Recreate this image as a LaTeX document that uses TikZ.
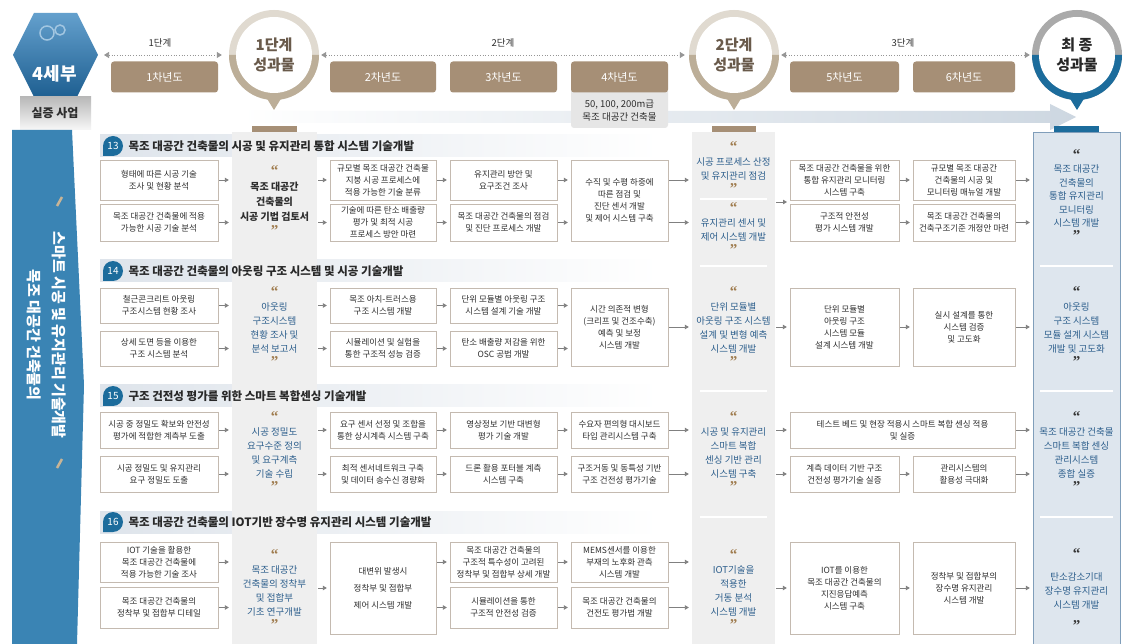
\documentclass[tikz,border=0pt]{standalone}
\usepackage{fontspec}
\setmainfont{Noto Sans CJK KR}
\newfontfamily\quotefont{Liberation Serif}
\usetikzlibrary{arrows.meta}

\definecolor{boxline}{RGB}{196,186,176}
\definecolor{txt}{RGB}{45,45,45}
\definecolor{titletxt}{RGB}{40,40,40}
\definecolor{titlebar}{RGB}{222,228,235}
\definecolor{yearbrown}{RGB}{166,143,118}
\definecolor{bandgray}{RGB}{239,239,239}
\definecolor{bandblue}{RGB}{222,230,238}
\definecolor{bandedge}{RGB}{128,158,186}
\definecolor{darkblue}{RGB}{28,108,156}
\definecolor{outblue}{RGB}{44,94,140}
\definecolor{quotetan}{RGB}{160,125,80}
\definecolor{quotedark}{RGB}{55,55,55}
\definecolor{arrowgray}{RGB}{128,128,128}
\definecolor{stagegray}{RGB}{150,150,150}
\definecolor{sideblue}{RGB}{58,132,180}
\definecolor{ringlight}{RGB}{224,218,208}
\definecolor{ringtan}{RGB}{188,174,152}
\definecolor{stagetxt}{RGB}{105,90,75}
\definecolor{ringgray}{RGB}{170,170,170}
\definecolor{hexlight}{RGB}{100,160,205}
\definecolor{hexdark}{RGB}{30,95,145}
\definecolor{bandarrow}{RGB}{205,215,225}
\definecolor{notegray}{RGB}{230,230,230}
\definecolor{slashtan}{RGB}{200,180,150}

\newcommand{\oq}{{\quotefont\bfseries\fontsize{15}{15}\selectfont\color{quotetan}“}}
\newcommand{\cq}{{\quotefont\bfseries\fontsize{15}{15}\selectfont\color{quotetan}”}}
\newcommand{\od}{{\quotefont\bfseries\fontsize{15}{15}\selectfont\color{quotedark}“}}
\newcommand{\cd}{{\quotefont\bfseries\fontsize{15}{15}\selectfont\color{quotedark}”}}

\begin{document}
\begin{tikzpicture}[x=1pt, y=1pt,
  box/.style={draw=boxline, fill=white, align=center, text=txt, inner sep=1pt,
    font=\fontsize{8.5}{12}\selectfont},
  wa/.style={box, minimum width=118pt},
  wc/.style={box, minimum width=106pt},
  wd/.style={box, minimum width=107pt},
  we/.style={box, minimum width=97pt},
  wf/.style={box, minimum width=109pt},
  wg/.style={box, minimum width=102pt},
  band/.style={minimum height=512pt, inner sep=0pt},
  outtxt/.style={align=center, text=outblue, font=\fontsize{9.5}{14}\selectfont},
  year/.style={fill=yearbrown, rounded corners=3pt, text=white, minimum height=31pt,
    font=\fontsize{11}{11}\selectfont},
  badge/.style={fill=darkblue},
  arr/.style={-{Triangle[length=4pt, width=4.5pt]}, draw=arrowgray, line width=0.9pt,
    shorten <=1pt, shorten >=3pt},
  stagearr/.style={{Triangle[length=5pt, width=6pt]}-{Triangle[length=5pt, width=6pt]},
    draw=stagegray, dotted, line width=0.7pt},
]
  \fill[white] (0,0) rectangle (1136,-644);
  \useasboundingbox (0,0) rectangle (1136,-644);

  % Kopf
  \shade[top color=hexlight, bottom color=hexdark]
    (13,-55) -- (34,-13) -- (77,-13) -- (98,-55) -- (77,-97) -- (34,-97) -- cycle;
  \draw[hexlight!60!white, line width=1.5pt] (47,-33) circle (7);
  \draw[hexlight!60!white, line width=1.5pt] (60,-30) circle (5);
  \shade[top color=gray!55, bottom color=gray!6] (20,-97) rectangle (91,-130);
  \coordinate (hexR) at (98,-55);
  \node[font=\fontsize{18}{18}\selectfont\bfseries, text=white] (hexlabel) at (55,-74) {4세부};
  \node[font=\fontsize{12}{12}\selectfont\bfseries, text=txt] (demo) at (55,-113) {실증 사업};

  \shade[left color=white, right color=bandarrow] (240,-111) -- (1050,-111) -- (1050,-104)
    -- (1076,-117) -- (1050,-130) -- (1050,-123) -- (240,-123) -- cycle;

  \node[year, minimum width=107pt] (y1) at (164.5,-77) {1차년도};
  \node[year, minimum width=106pt] (y2) at (383,-77) {2차년도};
  \node[year, minimum width=107pt] (y3) at (503.5,-77) {3차년도};
  \fill[notegray, rounded corners=3pt] (571,-88) rectangle (668,-128);
  \node[year, minimum width=97pt] (y4) at (619.5,-77) {4차년도};
  \node[year, minimum width=109pt] (y5) at (844.5,-77) {5차년도};
  \node[year, minimum width=102pt] (y6) at (964,-77) {6차년도};
  \node[align=center, text=txt, font=\fontsize{9.5}{13}\selectfont] (y4note) at (619.5,-111)
    {50, 100, 200m급\\목조 대공간 건축물};

  % Kreise
  \foreach \cx in {274, 734} {
    \fill[ringlight] (\cx,-55) circle (45);
    \fill[ringtan] (\cx-45,-55) arc[start angle=180, end angle=360, radius=45] -- cycle;
    \fill[white] (\cx,-55) circle (38);
    \fill[ringtan] (\cx-8,-97) -- (\cx+8,-97) -- (\cx,-110) -- cycle;
  }
  \fill[ringgray] (1077,-55) circle (45);
  \fill[darkblue] (1032,-55) arc[start angle=180, end angle=360, radius=45] -- cycle;
  \fill[white] (1077,-55) circle (38);
  \fill[darkblue] (1069,-97) -- (1085,-97) -- (1077,-110) -- cycle;

  \node[circle, minimum size=90pt, inner sep=0pt, align=center, text=stagetxt,
    font=\fontsize{15}{20}\selectfont\bfseries] (m1) at (274,-55) {1단계\\성과물};
  \node[circle, minimum size=90pt, inner sep=0pt, align=center, text=stagetxt,
    font=\fontsize{15}{20}\selectfont\bfseries] (m2) at (734,-55) {2단계\\성과물};
  \node[circle, minimum size=90pt, inner sep=0pt, align=center, text=titletxt,
    font=\fontsize{15}{20}\selectfont\bfseries] (m3) at (1077,-55) {최 종\\성과물};

  \draw[stagearr, shorten <=6pt, shorten >=7pt] (hexR) -- (m1.west);
  \draw[stagearr, shorten <=2pt, shorten >=4pt] (m1.east) -- (m2.west);
  \draw[stagearr, shorten <=2pt, shorten >=2pt] (m2.east) -- (m3.west);
  \node[font=\fontsize{9.5}{9.5}\selectfont, text=txt] (l1) at (160,-43) {1단계};
  \node[font=\fontsize{9.5}{9.5}\selectfont, text=txt] (l2) at (503,-43) {2단계};
  \node[font=\fontsize{9.5}{9.5}\selectfont, text=txt] (l3) at (903,-43) {3단계};

  % Seitenleiste
  \fill[sideblue] (12,-130) -- (72,-130) -- (84,-385) -- (77,-644) -- (12,-644) -- cycle;
  \node[rotate=-90, align=center, text=white, font=\fontsize{15}{25}\selectfont\bfseries]
    (side) at (47,-335) {스마트 시공 및 유지관리 기술개발\\목조 대공간 건축물의};
  \draw[slashtan, line width=2.5pt] (57,-206) -- (62,-197);
  \draw[slashtan, line width=2.5pt] (57,-468) -- (62,-459);

  % Titelbalken
  \foreach \ty in {146, 271, 396, 522}
    \shade[left color=titlebar, right color=white] (100,-\ty+11) rectangle (660,-\ty-11);

  % Spalten
  \node[band, fill=bandgray, minimum width=85pt] (band2) at (274.5,-388) {};
  \node[band, fill=bandgray, minimum width=83pt] (band6) at (733.5,-388) {};
  \node[band, fill=bandblue, draw=bandedge, minimum width=87pt] (band9) at (1076.5,-388) {};
  \fill[yearbrown] (252,-126) rectangle (297,-132);
  \fill[yearbrown] (712,-126) rectangle (756,-132);
  \fill[darkblue] (1054,-126) rectangle (1099,-132);
  \foreach \ty in {266, 391, 517} {
    \draw[white, line width=2pt] (700,-\ty) -- (767,-\ty);
    \draw[white, line width=2pt] (1040,-\ty) -- (1113,-\ty);
  }
  \draw[white, line width=2pt] (700,-199) -- (767,-199);

  % Nummern
  \foreach \nr/\ty in {13/146, 14/271, 15/396, 16/522} {
    \fill[badge] (103,-\ty) -- (103,-\ty-10) -- (113,-\ty-10)
      arc[start angle=-90, end angle=180, radius=10] -- cycle;
    \node[text=white, font=\fontsize{10}{10}\selectfont] (no\nr) at (113,-\ty) {\nr};
  }
  \node[anchor=west, text=titletxt, font=\fontsize{11.5}{11.5}\selectfont\bfseries] (ti13) at (125,-146)
    {목조 대공간 건축물의 시공 및 유지관리 통합 시스템 기술개발};
  \node[anchor=west, text=titletxt, font=\fontsize{11.5}{11.5}\selectfont\bfseries] (ti14) at (125,-271)
    {목조 대공간 건축물의 아웃링 구조 시스템 및 시공 기술개발};
  \node[anchor=west, text=titletxt, font=\fontsize{11.5}{11.5}\selectfont\bfseries] (ti15) at (125,-396)
    {구조 건전성 평가를 위한 스마트 복합센싱 기술개발};
  \node[anchor=west, text=titletxt, font=\fontsize{11.5}{11.5}\selectfont\bfseries] (ti16) at (125,-522)
    {목조 대공간 건축물의 IOT기반 장수명 유지관리 시스템 기술개발};

  % 13
  \node[wa, minimum height=40pt] (a13) at (159,-180) {형태에 따른 시공 기술\\조사 및 현황 분석};
  \node[wa, minimum height=37pt] (b13) at (159,-222.5) {목조 대공간 건축물에 적용\\가능한 시공 기술 분석};
  \node[outtxt, text=txt, font=\fontsize{10}{15}\selectfont\bfseries] (o13) at (274.5,-201)
    {\oq\\목조 대공간\\건축물의\\시공 기법 검토서\\\cq};
  \node[wc, minimum height=40pt] (c13) at (383,-180) {규모별 목조 대공간 건축물\\지붕 시공 프로세스에\\적용 가능한 기술 분류};
  \node[wc, minimum height=37pt] (d13) at (383,-222.5) {기술에 따른 탄소 배출량\\평가 및 최적 시공\\프로세스 방안 마련};
  \node[wd, minimum height=40pt] (e13) at (503.5,-180) {유지관리 방안 및\\요구조건 조사};
  \node[wd, minimum height=37pt] (f13) at (503.5,-222.5) {목조 대공간 건축물의 점검\\및 진단 프로세스 개발};
  \node[we, minimum height=81pt] (g13) at (619.5,-200.5) {수직 및 수평 하중에\\따른 점검 및\\진단 센서 개발\\및 제어 시스템 구축};
  \node[outtxt] (h13) at (733.5,-168) {\oq\\시공 프로세스 산정\\및 유지관리 점검\\\cq};
  \node[outtxt] (i13) at (733.5,-229) {\oq\\유지관리 센서 및\\제어 시스템 개발\\\cq};
  \coordinate (j13) at (790,-202);
  \node[wf, minimum height=40pt] (k13) at (844.5,-180) {목조 대공간 건축물을 위한\\통합 유지관리 모니터링\\시스템 구축};
  \node[wf, minimum height=37pt] (l13) at (844.5,-222.5) {구조적 안전성\\평가 시스템 개발};
  \node[wg, minimum height=40pt] (m13) at (964,-180) {규모별 목조 대공간\\건축물의 시공 및\\모니터링 매뉴얼 개발};
  \node[wg, minimum height=37pt] (n13) at (964,-222.5) {목조 대공간 건축물의\\건축구조기준 개정안 마련};
  \node[outtxt, font=\fontsize{9.5}{13.5}\selectfont] (p13) at (1076.5,-195)
    {\od\\목조 대공간\\건축물의\\통합 유지관리\\모니터링\\시스템 개발\\\cd};

  \draw[arr] (a13) -- (a13 -| band2.west);
  \draw[arr] (b13) -- (b13 -| band2.west);
  \draw[arr] (c13 -| band2.east) -- (c13);
  \draw[arr] (d13 -| band2.east) -- (d13);
  \draw[arr] (c13) -- (e13);
  \draw[arr] (d13) -- (f13);
  \draw[arr] (e13) -- (e13 -| g13.west);
  \draw[arr] (f13) -- (f13 -| g13.west);
  \draw[arr] (g13.east |- e13) -- (e13 -| band6.west);
  \draw[arr] (g13.east |- f13) -- (f13 -| band6.west);
  \draw[arr] (j13 -| band6.east) -- (j13);
  \draw[arr] (k13) -- (m13);
  \draw[arr] (l13) -- (n13);
  \draw[arr] (m13) -- (m13 -| band9.west);
  \draw[arr] (n13) -- (n13 -| band9.west);

  % 14
  \node[wa, minimum height=35pt] (a14) at (159,-305.5) {철근콘크리트 아웃링\\구조시스템 현황 조사};
  \node[wa, minimum height=35pt] (b14) at (159,-348.5) {상세 도면 등을 이용한\\구조 시스템 분석};
  \node[outtxt] (o14) at (274.5,-327) {\oq\\아웃링\\구조시스템\\현황 조사 및\\분석 보고서\\\cq};
  \node[wc, minimum height=35pt] (c14) at (383,-305.5) {목조 아치-트러스용\\구조 시스템 개발};
  \node[wc, minimum height=35pt] (d14) at (383,-348.5) {시뮬레이션 및 실험을\\통한 구조적 성능 검증};
  \node[wd, minimum height=35pt] (e14) at (503.5,-305.5) {단위 모듈별 아웃링 구조\\시스템 설계 기술 개발};
  \node[wd, minimum height=35pt] (f14) at (503.5,-348.5) {탄소 배출량 저감을 위한\\OSC 공법 개발};
  \node[we, minimum height=78pt] (g14) at (619.5,-327) {시간 의존적 변형\\(크리프 및 건조수축)\\예측 및 보정\\시스템 개발};
  \node[outtxt] (h14) at (733.5,-327) {\oq\\단위 모듈별\\아웃링 구조 시스템\\설계 및 변형 예측\\시스템 개발\\\cq};
  \node[wf, minimum height=78pt] (k14) at (844.5,-327) {단위 모듈별\\아웃링 구조\\시스템 모듈\\설계 시스템 개발};
  \node[wg, minimum height=78pt] (m14) at (964,-327) {실시 설계를 통한\\시스템 검증\\및 고도화};
  \node[outtxt] (p14) at (1076.5,-327) {\od\\아웃링\\구조 시스템\\모듈 설계 시스템\\개발 및 고도화\\\cd};

  \draw[arr] (a14) -- (a14 -| band2.west);
  \draw[arr] (b14) -- (b14 -| band2.west);
  \draw[arr] (c14 -| band2.east) -- (c14);
  \draw[arr] (d14 -| band2.east) -- (d14);
  \draw[arr] (c14) -- (e14);
  \draw[arr] (d14) -- (f14);
  \draw[arr] (e14) -- (e14 -| g14.west);
  \draw[arr] (f14) -- (f14 -| g14.west);
  \draw[arr] (g14) -- (g14 -| band6.west);
  \draw[arr] (k14 -| band6.east) -- (k14);
  \draw[arr] (k14) -- (m14);
  \draw[arr] (m14) -- (m14 -| band9.west);

  % 15
  \node[wa, minimum height=36pt] (a15) at (159,-430) {시공 중 정밀도 확보와 안전성\\평가에 적합한 계측부 도출};
  \node[wa, minimum height=36pt] (b15) at (159,-474) {시공 정밀도 및 유지관리\\요구 정밀도 도출};
  \node[outtxt] (o15) at (274.5,-452) {\oq\\시공 정밀도\\요구수준 정의\\및 요구계측\\기술 수립\\\cq};
  \node[wc, minimum height=36pt] (c15) at (383,-430) {요구 센서 선정 및 조합을\\통한 상시계측 시스템 구축};
  \node[wc, minimum height=36pt] (d15) at (383,-474) {최적 센서네트워크 구축\\및 데이터 송수신 경량화};
  \node[wd, minimum height=36pt] (e15) at (503.5,-430) {영상정보 기반 대변형\\평가 기술 개발};
  \node[wd, minimum height=36pt] (f15) at (503.5,-474) {드론 활용 포터블 계측\\시스템 구축};
  \node[we, minimum height=36pt] (g15) at (619.5,-430) {수요자 편의형 대시보드\\타입 관리시스템 구축};
  \node[we, minimum height=36pt] (h15) at (619.5,-474) {구조거동 및 동특성 기반\\구조 건전성 평가기술};
  \node[outtxt] (i15) at (733.5,-452) {\oq\\시공 및 유지관리\\스마트 복합\\센싱 기반 관리\\시스템 구축\\\cq};
  \node[box, minimum width=225pt, minimum height=36pt] (k15) at (902.5,-430)
    {테스트 베드 및 현장 적용시 스마트 복합 센싱 적용\\및 실증};
  \node[wf, minimum height=36pt] (l15) at (844.5,-474) {계측 데이터 기반 구조\\건전성 평가기술 실증};
  \node[wg, minimum height=36pt] (m15) at (964,-474) {관리시스템의\\활용성 극대화};
  \node[outtxt] (p15) at (1076.5,-452) {\od\\목조 대공간 건축물\\스마트 복합 센싱\\관리시스템\\종합 실증\\\cd};

  \draw[arr] (a15) -- (a15 -| band2.west);
  \draw[arr] (b15) -- (b15 -| band2.west);
  \draw[arr] (c15 -| band2.east) -- (c15);
  \draw[arr] (d15 -| band2.east) -- (d15);
  \draw[arr] (c15) -- (e15);
  \draw[arr] (d15) -- (f15);
  \draw[arr] (e15) -- (g15);
  \draw[arr] (f15) -- (h15);
  \draw[arr] (g15) -- (g15 -| band6.west);
  \draw[arr] (h15) -- (h15 -| band6.west);
  \draw[arr] (k15.west -| band6.east) -- (k15.west);
  \draw[arr] (l15 -| band6.east) -- (l15);
  \draw[arr] (l15) -- (m15);
  \draw[arr] (k15.east) -- (k15.east -| band9.west);
  \draw[arr] (m15) -- (m15 -| band9.west);

  % 16
  \node[wa, minimum height=40pt] (a16) at (159,-562) {IOT 기술을 활용한\\목조 대공간 건축물에\\적용 가능한 기술 조사};
  \node[wa, minimum height=41pt] (b16) at (159,-607.5) {목조 대공간 건축물의\\정착부 및 접합부 디테일};
  \node[outtxt] (o16) at (274.5,-590) {\oq\\목조 대공간\\건축물의 정착부\\및 접합부\\기초 연구개발\\\cq};
  \node[wc, minimum height=92pt] (c16) at (383,-588) {대변위 발생시\\[5pt]정착부 및 접합부\\[5pt]제어 시스템 개발};
  \node[wd, minimum height=40pt] (e16) at (503.5,-562) {목조 대공간 건축물의\\구조적 특수성이 고려된\\정착부 및 접합부 상세 개발};
  \node[wd, minimum height=41pt] (f16) at (503.5,-607.5) {시뮬레이션을 통한\\구조적 안전성 검증};
  \node[we, minimum height=40pt] (g16) at (619.5,-562) {MEMS센서를 이용한\\부재의 노후화 관측\\시스템 개발};
  \node[we, minimum height=41pt] (h16) at (619.5,-607.5) {목조 대공간 건축물의\\건전도 평가법 개발};
  \node[outtxt] (i16) at (733.5,-590) {\oq\\IOT기술을\\적용한\\거동 분석\\시스템 개발\\\cq};
  \node[wf, minimum height=92pt] (k16) at (844.5,-588) {IOT를 이용한\\목조 대공간 건축물의\\지진응답예측\\시스템 구축};
  \node[wg, minimum height=92pt] (m16) at (964,-588) {정착부 및 접합부의\\장수명 유지관리\\시스템 개발};
  \node[outtxt] (p16) at (1076.5,-590) {\od\\[8pt]탄소감소기대\\장수명 유지관리\\시스템 개발\\[8pt]\cd};

  \draw[arr] (a16) -- (a16 -| band2.west);
  \draw[arr] (b16) -- (b16 -| band2.west);
  \draw[arr] (c16 -| band2.east) -- (c16);
  \draw[arr] (c16.east |- e16) -- (e16);
  \draw[arr] (c16.east |- f16) -- (f16);
  \draw[arr] (e16) -- (g16);
  \draw[arr] (f16) -- (h16);
  \draw[arr] (g16) -- (g16 -| band6.west);
  \draw[arr] (h16) -- (h16 -| band6.west);
  \draw[arr] (k16 -| band6.east) -- (k16);
  \draw[arr] (k16) -- (m16);
  \draw[arr] (m16) -- (m16 -| band9.west);

\end{tikzpicture}
\end{document}
